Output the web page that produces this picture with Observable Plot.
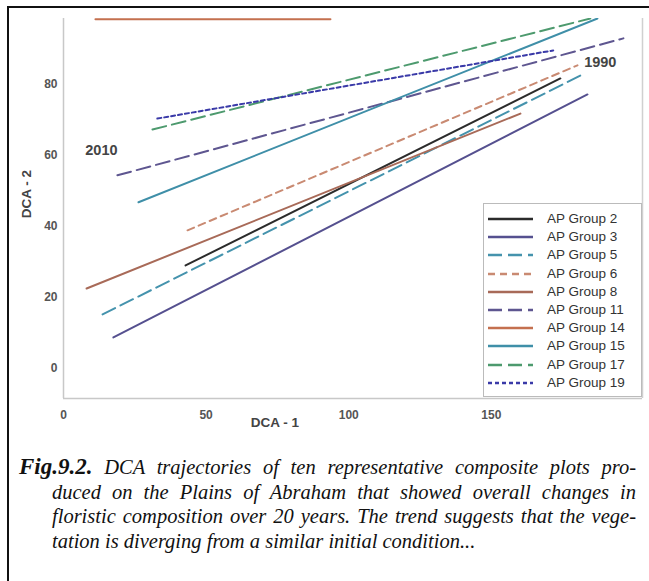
<!DOCTYPE html>
<html>
<head>
<meta charset="utf-8">
<script src="https://cdn.jsdelivr.net/npm/d3@7"></script>
<script src="https://cdn.jsdelivr.net/npm/@observablehq/plot@0.6"></script>
<style>
  html, body { margin: 0; padding: 0; background: #fff; width: 649px; height: 581px; overflow: hidden; }
  #frame { position: absolute; left: 7px; top: 6px; width: 800px; height: 800px; border-top: 2px solid #111; border-left: 2px solid #111; }
  #chart { position: absolute; left: 0; top: 0; }
  .axlabel { position: absolute; font-family: "Liberation Sans", Arial, sans-serif; font-weight: bold; font-size: 13.5px; color: #444; white-space: nowrap; }
  #legend { position: absolute; left: 483px; top: 203px; width: 159px; height: 194px; border: 1px solid #bbb; background: #fff; box-sizing: border-box; overflow: hidden; }
  .lrow { position: absolute; left: 0; height: 18px; width: 160px; }
  .lrow svg { position: absolute; left: 4px; top: 0; }
  .lrow span { position: absolute; left: 63px; top: 1px; font-family: "Liberation Sans", Arial, sans-serif; font-size: 13.5px; color: #333; line-height: 16px; white-space: nowrap; }
  #caption { position: absolute; left: 0; top: 455px; width: 649px; font-family: "Liberation Serif", "DejaVu Serif", serif; font-style: italic; font-size: 20.5px; line-height: 24.7px; color: #111; }
  .cl { position: absolute; height: 24.7px; text-align: justify; text-align-last: justify; white-space: nowrap; }
  .cl.last { text-align-last: left; }
  .fig { font-weight: bold; font-size: 23px; }
</style>
</head>
<body>
<div id="frame"></div>
<div id="chart"></div>
<div class="axlabel" id="ylab" style="left:26px; top:194px; transform: translate(-50%,-50%) rotate(-90deg);">DCA - 2</div>
<div class="axlabel" id="xlab" style="left:275px; top:422px; transform: translate(-50%,-50%);">DCA - 1</div>
<div id="legend"></div>
<div id="caption"></div>
<script>
// ---- data ----
const groups = ["AP Group 2", "AP Group 3", "AP Group 5", "AP Group 6", "AP Group 8",
                "AP Group 11", "AP Group 14", "AP Group 15", "AP Group 17", "AP Group 19"];
// 2010 end (left) and 1990 end (right) of each trajectory
const x2010 = [42.8, 17.5, 13.7, 43.5, 8.1, 18.9, 11.2, 26.3, 31.2, 32.9];
const y2010 = [29.0, 8.7, 15.2, 38.9, 22.5, 54.4, 98.4, 46.8, 67.3, 70.4];
const x1990 = [174.2, 183.7, 181.2, 180.2, 160.2, 196.3, 93.6, 187.2, 184.7, 171.7];
const y1990 = [81.7, 77.2, 82.5, 85.4, 71.8, 93.0, 98.4, 98.6, 98.6, 89.6];
const colors = ["#2b2b2b", "#55508f", "#4593ad", "#c98a72", "#a86a58",
                "#5e5690", "#c4704f", "#3f8fa8", "#4d9a6e", "#3a3aa8"];
const dashes = [null, null, "14,6", "7,5", null, "14,6", null, null, "14,6", "4,3"];
const xTicks = [0, 50, 100, 150];
const yTicks = [0, 20, 40, 60, 80];
const xDomain = [0, 203];
const yDomain = [-8.5, 98.6];
const annotations = [
  {label: "2010", x: 13.3, y: 61.4},
  {label: "1990", x: 188.2, y: 86.2}
];
const captionLines = [
  "DCA trajectories of ten representative composite plots pro-",
  "duced on the Plains of Abraham that showed overall changes in",
  "floristic composition over 20 years. The trend suggests that the vege-",
  "tation is diverging from a similar initial condition..."
];

// ---- build ----
const rows = [];
groups.forEach((g, i) => {
  rows.push({group: g, x: x2010[i], y: y2010[i]});
  rows.push({group: g, x: x1990[i], y: y1990[i]});
});

const lineMarks = groups.map((g, i) =>
  Plot.line(rows.filter(d => d.group === g), {
    x: "x", y: "y", stroke: colors[i], strokeWidth: 2,
    strokeDasharray: dashes[i] || undefined, clip: true
  })
);

const chart = Plot.plot({
  width: 649, height: 440,
  marginLeft: 63, marginRight: 7, marginTop: 18, marginBottom: 42,
  style: {fontFamily: "Liberation Sans, Arial, sans-serif", fontSize: "12px", color: "#555", background: "transparent"},
  x: {domain: xDomain},
  y: {domain: yDomain},
  marks: [
    Plot.ruleX([xDomain[0]], {stroke: "#c8c8c8", strokeWidth: 1.5}),
    Plot.ruleX([xDomain[1]], {stroke: "#d0d0d0", strokeWidth: 1.5}),
    Plot.ruleY([yDomain[0]], {stroke: "#c8c8c8", strokeWidth: 1.5}),
    Plot.axisX({ticks: xTicks, tickSize: 0, tickPadding: 12, label: null, fontWeight: "bold", fill: "#555"}),
    Plot.axisY({ticks: yTicks, tickSize: 0, tickPadding: 6, label: null, fontWeight: "bold", fill: "#555"}),
    ...lineMarks,
    Plot.text(annotations, {x: "x", y: "y", text: "label", fontSize: 14.5, fontWeight: "bold", fill: "#444"})
  ]
});
document.getElementById("chart").appendChild(chart);

// legend
const leg = document.getElementById("legend");
groups.forEach((g, i) => {
  const row = document.createElement("div");
  row.className = "lrow";
  row.style.top = (6 + 18.2 * i) + "px";
  const ns = "http://www.w3.org/2000/svg";
  const svg = document.createElementNS(ns, "svg");
  svg.setAttribute("width", "46"); svg.setAttribute("height", "18");
  const ln = document.createElementNS(ns, "line");
  ln.setAttribute("x1", "0"); ln.setAttribute("x2", "45");
  ln.setAttribute("y1", "9"); ln.setAttribute("y2", "9");
  ln.setAttribute("stroke", colors[i]); ln.setAttribute("stroke-width", "2.5");
  if (dashes[i]) ln.setAttribute("stroke-dasharray", dashes[i]);
  svg.appendChild(ln);
  row.appendChild(svg);
  const sp = document.createElement("span");
  sp.textContent = g;
  row.appendChild(sp);
  leg.appendChild(row);
});

// caption
const cap = document.getElementById("caption");
captionLines.forEach((t, i) => {
  const d = document.createElement("div");
  d.className = "cl" + (i === captionLines.length - 1 ? " last" : "");
  d.style.top = (24.7 * i) + "px";
  if (i === 0) {
    d.style.left = "19px"; d.style.width = "617px";
    const b = document.createElement("span");
    b.className = "fig"; b.textContent = "Fig.9.2.";
    d.appendChild(b);
    d.appendChild(document.createTextNode(" " + t));
  } else {
    d.style.left = "52px"; d.style.width = "584px";
    d.textContent = t;
  }
  cap.appendChild(d);
});
</script>
</body>
</html>
